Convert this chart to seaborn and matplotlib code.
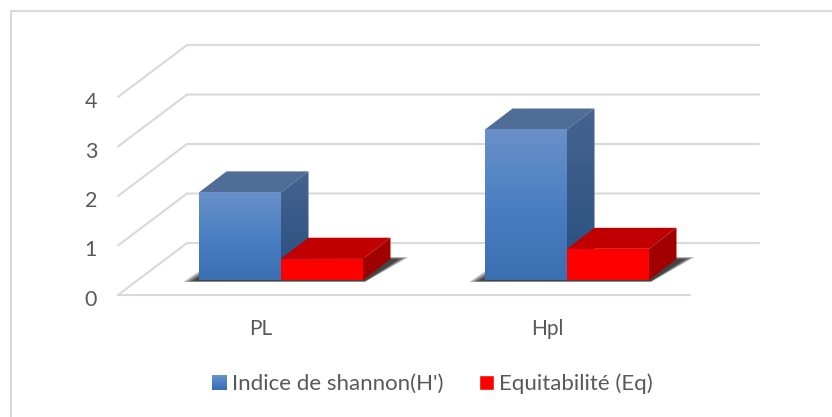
import numpy as np
import pandas as pd
import seaborn as sns
import matplotlib.pyplot as plt
from matplotlib.patches import Polygon, Rectangle
from matplotlib.transforms import Affine2D, IdentityTransform, ScaledTranslation
from matplotlib.colors import LinearSegmentedColormap

# values
categories = ['PL', 'Hpl']
shannon = [1.77, 3.04]
equit = [0.43, 0.63]
series_names = ["Indice de shannon(H')", 'Equitabilité (Eq)']
y_ticks = [0, 1, 2, 3, 4]

W, H = 832, 417
sns.set_theme(style='white')
plt.rcParams['font.family'] = ['Lato', 'DejaVu Sans']
GREY = '#595959'
GRID = '#d9d9d9'

df = pd.DataFrame({
    'cat': categories * 2,
    'serie': [series_names[0]] * 2 + [series_names[1]] * 2,
    'val': shannon + equit,
})

fig = plt.figure(figsize=(W / 100, H / 100), dpi=100)
fig.patch.set_facecolor('white')
# chart frame is cropped by the image: only top and left edges show
fig.add_artist(plt.Line2D([10.5 / W, 10.5 / W, 1], [0, 1 - 10.5 / H, 1 - 10.5 / H],
                          color=GRID, lw=1.5, transform=fig.transFigure))

# axes = front plane of the 3d box, 118..690 px wide, 0 at y=295, 4 at y=97
ax = fig.add_axes([118 / W, 1 - 295 / H, 572 / W, 198 / H])
sns.barplot(data=df, x='cat', y='val', hue='serie', hue_order=series_names, order=categories,
            palette=['#4a7ebb', '#ff0000'], width=0.5734, gap=0, saturation=1,
            legend=False, ax=ax, zorder=5, edgecolor='none', linewidth=0)
ax.set_xlim(-0.5, 1.5)
ax.set_ylim(0, 4)
ax.set_xlabel('')
ax.set_ylabel('')
ax.set_yticks(y_ticks)
ax.tick_params(axis='y', length=0, pad=15, labelsize=15.5, labelcolor=GREY)
ax.tick_params(axis='x', length=0, pad=17, labelsize=15, labelcolor=GREY)
ax.patch.set_alpha(0)
sns.despine(ax=ax, left=True, bottom=True)
# y labels sit a little below their diagonals
for lab in ax.get_yticklabels():
    lab.set_transform(lab.get_transform() + ScaledTranslation(0, -3 / 100, fig.dpi_scale_trans))


def shifted(dx, dy):
    return ax.transData + Affine2D().translate(dx, dy)


def px_poly(pts, color, z, alpha=None):
    # polygon given in display pixels
    p = Polygon(np.array(pts), closed=True, transform=IdentityTransform(), fc=color, ec='none',
                zorder=z, clip_on=False, alpha=alpha)
    ax.add_patch(p)
    return p


# walls: gridlines on the back, diagonals on the left side, floor front edge
wall_dx, wall_dy = 69, 52
for v in y_ticks:
    p0 = ax.transData.transform((-0.5, v))
    p1 = p0 + [wall_dx, wall_dy]
    p2 = ax.transData.transform((1.5, v)) + [wall_dx, wall_dy]
    ax.plot([p0[0], p1[0], p2[0]], [p0[1], p1[1], p2[1]], color=GRID, lw=1.5,
            transform=IdentityTransform(), clip_on=False, zorder=1)
ax.plot([-0.5, 1.5], [0, 0], color=GRID, lw=1.5, clip_on=False, zorder=1)
ax.set_xlim(-0.5, 1.5)
ax.set_ylim(0, 4)

# bars sit 15px back on the floor, 21px deep
front_dx, front_dy = 20, 15
depth_dx, depth_dy = 27.5, 21
to_front = shifted(front_dx, front_dy)

blue_front = LinearSegmentedColormap.from_list('bf', ['#3a70b2', '#4a80c3', '#6a90c8'])
blue_side = LinearSegmentedColormap.from_list('bs', ['#28507f', '#466390'])
blue_top = '#4f6d96'
red_top, red_side = '#c00000', '#a00000'

bars = [b for b in ax.patches if isinstance(b, Rectangle) and b.get_height() > 0]
bars = sorted(bars, key=lambda b: b.get_x())

# shadow under each pair: stacked soft footprints on the floor
for i in range(len(categories)):
    pair = [b for b in bars if abs(b.get_x() + b.get_width() / 2 - i) < 0.3]
    lo = to_front.transform((min(b.get_x() for b in pair), 0))
    hi = to_front.transform((max(b.get_x() + b.get_width() for b in pair), 0))
    for k in range(10):
        g = 10 - k * 1.2
        px_poly([(lo[0] - 6 - g, lo[1] - 1 - g * 0.1), (hi[0] + 2, hi[1] - 1 - g * 0.1),
                 (hi[0] + 36 + g, hi[1] + 21 + g * 0.2), (lo[0] + 30 - g, lo[1] + 21 + g * 0.2)],
                'black', 2, alpha=0.12)

# faces drawn from the bar patches themselves
for b in bars:
    x0, x1, v = b.get_x(), b.get_x() + b.get_width(), b.get_height()
    is_blue = b.get_facecolor()[2] > 0.5
    fl = to_front.transform((x0, v))
    fr = to_front.transform((x1, v))
    br = to_front.transform((x1, 0))
    d = np.array([depth_dx, depth_dy])
    # blue pieces go behind the red ones
    z = 4 if is_blue else 6
    px_poly([fl, fr, fr + d, fl + d], blue_top if is_blue else red_top, z)
    side = px_poly([br, fr, fr + d, br + d], 'none' if is_blue else red_side, z)
    b.set_transform(to_front)
    b.set_clip_on(False)
    b.set_zorder(z + 1)
    if is_blue:
        grad = np.linspace(0, 1, 64)[:, None]
        ax.imshow(grad, cmap=blue_front, origin='lower', aspect='auto', transform=to_front,
                  extent=(x0, x1, 0, v), zorder=z + 1, clip_on=False)
        # side gradient, clipped to the side polygon in pixel space
        ib = ax.imshow(grad, cmap=blue_side, origin='lower', aspect='auto', transform=IdentityTransform(),
                       extent=(br[0], br[0] + depth_dx, br[1], fr[1] + depth_dy), zorder=z + 0.5)
        ib.set_clip_path(side)
        ax.set_xlim(-0.5, 1.5)
        ax.set_ylim(0, 4)

# legend, hand placed below the axis like the office chart
handles = [Rectangle((0, 0), 1, 1, fc='#4a7ebb'), Rectangle((0, 0), 1, 1, fc='#ff0000')]
leg = fig.legend(handles, series_names, loc='center', bbox_to_anchor=(432 / W, 1 - 384 / H), ncol=2, frameon=False,
                 fontsize=16, labelcolor=GREY, handlelength=0.68, handleheight=0.68, handletextpad=0.22,
                 columnspacing=1.6, borderpad=0)

# blue legend swatch has the same gradient as the bars
fig.canvas.draw()
box = leg.legend_handles[0].get_window_extent()
n_h, n_w = int(round(box.height)), int(round(box.width))
swatch = blue_front(np.linspace(1, 0, n_h))[:, None, :].repeat(n_w, axis=1)
fig.figimage(swatch, xo=int(round(box.x0)), yo=int(round(box.y0)), origin='upper', zorder=10)

fig.savefig('out.png', dpi=100)
